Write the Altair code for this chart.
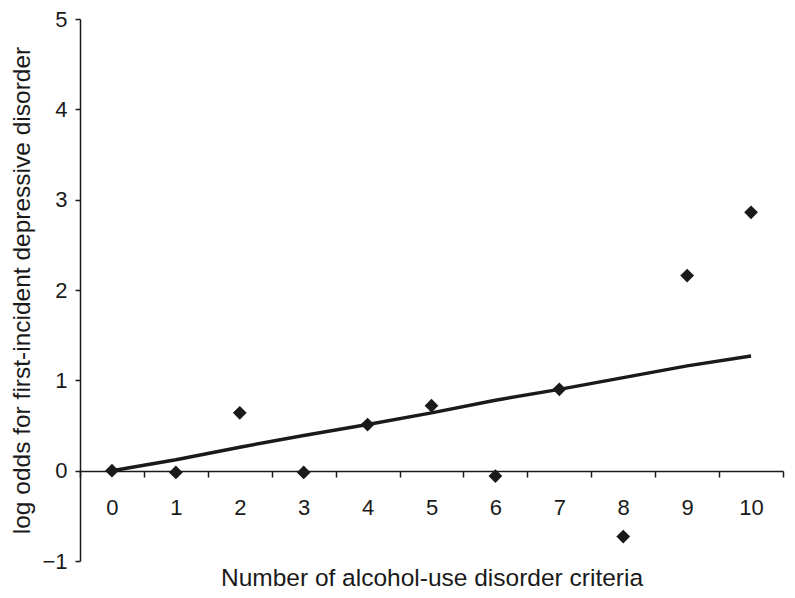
import altair as alt
import pandas as pd

criteria = ["0", "1", "2", "3", "4", "5", "6", "7", "8", "9", "10"]
observed = [0.0, -0.02, 0.64, -0.02, 0.51, 0.72, -0.06, 0.90, -0.73, 2.16, 2.86]
fitted = [0.0, 0.12, 0.26, 0.39, 0.51, 0.64, 0.78, 0.90, 1.03, 1.16, 1.27]

df = pd.DataFrame({"criteria": criteria, "observed": observed, "fitted": fitted})

FONT = "Liberation Sans"
INK = "#1a1a1a"

x = alt.X(
    "criteria:O",
    sort=criteria,
    scale=alt.Scale(paddingInner=0, paddingOuter=0),
    axis=alt.Axis(
        title="Number of alcohol-use disorder criteria",
        labelAngle=0,
        offset=-90,
        tickBand="extent",
        tickSize=6,
        tickWidth=1.5,
        tickColor=INK,
        domainColor=INK,
        domainWidth=1.5,
        labelPadding=20,
        labelFontSize=22,
        labelFont=FONT,
        labelColor=INK,
        titleFont=FONT,
        titleFontSize=24.5,
        titleFontWeight="normal",
        titleColor=INK,
        titleBaseline="alphabetic",
        titleY=114,
    ),
)

y_axis = alt.Axis(
    title="log odds for first-incident depressive disorder",
    values=[-1, 0, 1, 2, 3, 4, 5],
    format="d",
    grid=False,
    tickSize=5,
    tickWidth=1.5,
    tickColor=INK,
    domainColor=INK,
    domainWidth=1.5,
    labelPadding=8,
    labelFontSize=22,
    labelFont=FONT,
    labelColor=INK,
    labelExpr="datum.value < 0 ? '\u2212' + abs(datum.value) : datum.label",
    titleFont=FONT,
    titleFontSize=24.5,
    titleFontWeight="normal",
    titleColor=INK,
    titleAngle=-90,
    titleX=-57.5,
    titleY=271,
    titleAlign="center",
    titleBaseline="middle",
)

line = alt.Chart(df).mark_line(color=INK, strokeWidth=3.5).encode(
    x=x,
    y=alt.Y("fitted:Q", scale=alt.Scale(domain=[-1, 5], nice=False, zero=False), axis=y_axis),
)

points = alt.Chart(df).mark_point(shape="diamond", filled=True, color=INK, size=190, opacity=1).encode(
    x=x,
    y=alt.Y("observed:Q"),
)

chart = (
    alt.layer(line, points)
    .properties(
        width=703,
        height=542,
        autosize=alt.AutoSizeParams(type="none"),
        padding={"left": 72, "top": 11, "right": 4, "bottom": 29},
        background="white",
    )
    .configure_view(stroke=None)
)

chart.save("out.html", embed_options={"renderer": "svg", "actions": False})
